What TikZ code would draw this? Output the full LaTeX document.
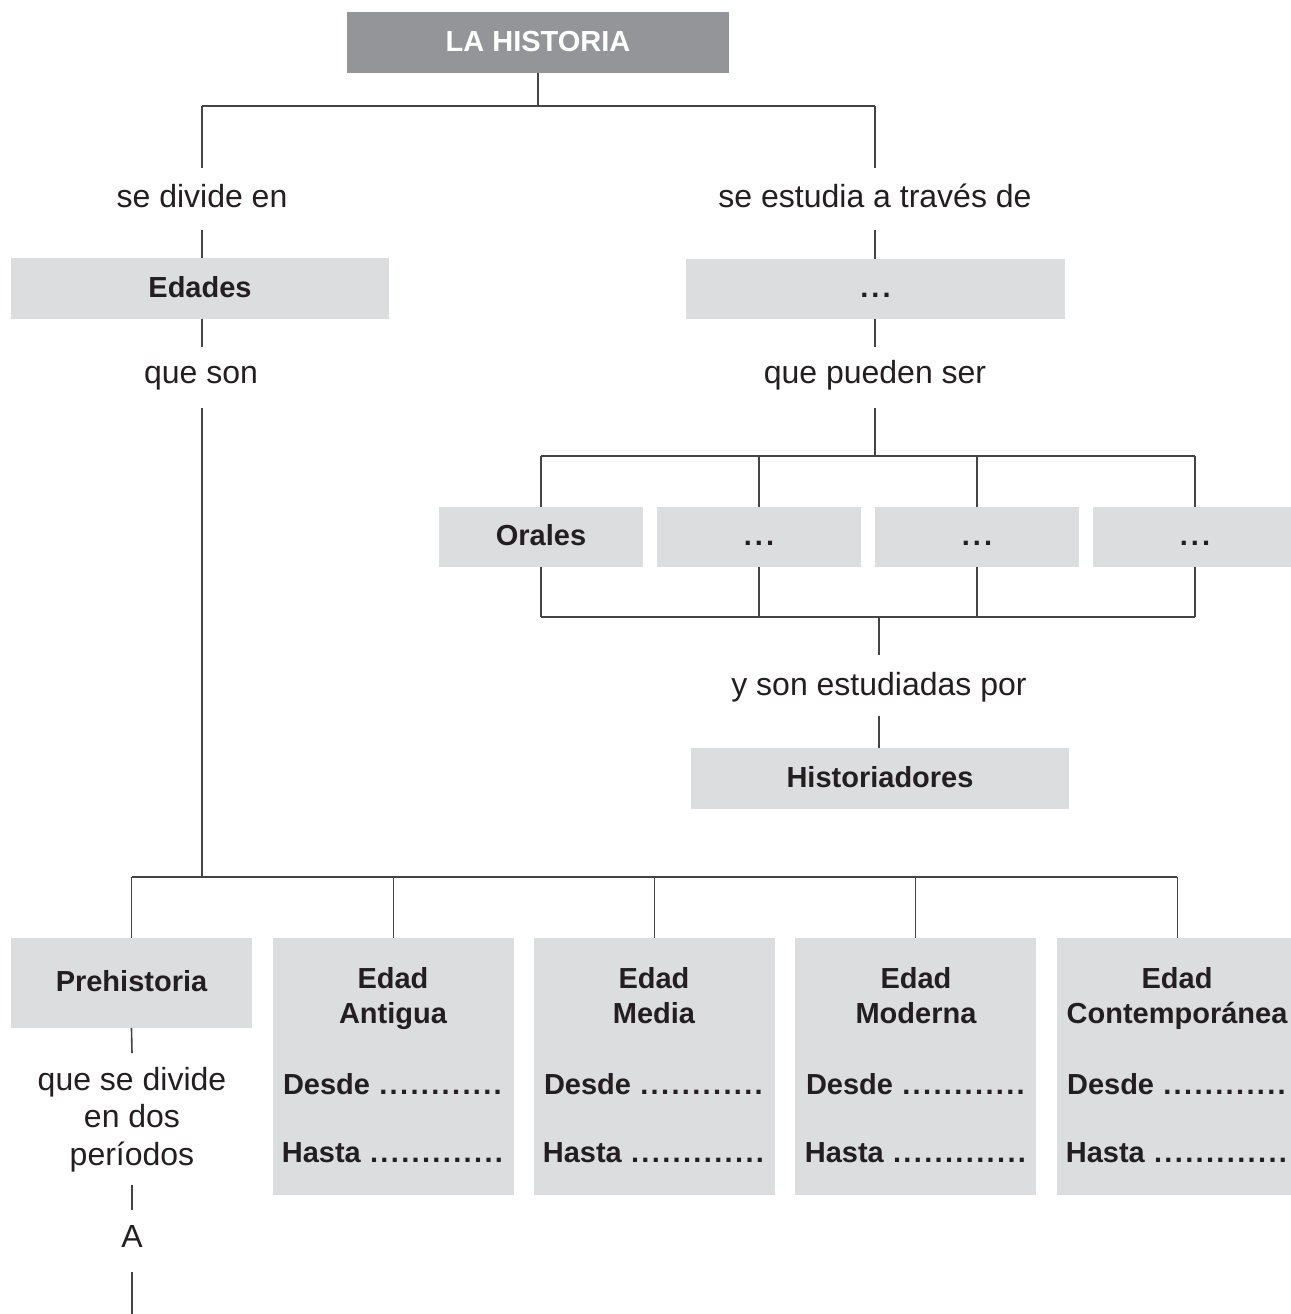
\documentclass[tikz,border=0pt]{standalone}
\usepackage{fontspec}
\setmainfont{Liberation Sans}
\definecolor{txt}{HTML}{231F20}
\definecolor{dark}{HTML}{939598}
\definecolor{light}{HTML}{DCDDDF}
\definecolor{ln}{HTML}{444444}
\newcount\dotcnt
\newcommand{\dotrow}[1]{\dotcnt=0 \loop\hbox to 10.4pt{\hss.\hss}\advance\dotcnt by 1 \ifnum\dotcnt<#1 \repeat}
\newcommand{\tdots}{.\kern3pt.\kern3pt.}
\begin{document}
\begin{tikzpicture}[x=1pt,y=-1pt,
  conn/.style={draw=ln,line width=1.6pt},
  topbox/.style={fill=dark,inner sep=0,text=white,font=\fontsize{29}{34}\selectfont\bfseries,text height=19pt,text depth=0pt},
  gbox/.style={fill=light,inner sep=0,text=txt,font=\fontsize{29}{34}\selectfont\bfseries,text height=17pt,text depth=0pt},
  lbl/.style={inner sep=0,text=txt,font=\fontsize{32}{38}\selectfont,anchor=base},
  blbl/.style={inner sep=0,text=txt,font=\fontsize{29}{36}\selectfont\bfseries,anchor=base}]
\useasboundingbox (0,0) rectangle (1290,1314);
\fill[white] (0,0) rectangle (1290,1314);

% top
\node[topbox,minimum width=382pt,minimum height=61pt] (hist) at (538,42.5) {LA HISTORIA};
\coordinate (j0) at (538,106);
\coordinate (jl) at (202,106);
\coordinate (jr) at (875,106);
\node[lbl] (divide) at (202,207) {se divide en};
\node[lbl] (estudia) at (875,207) {se estudia a través de};
\draw[conn] (hist.south) -- (j0);
\draw[conn] (jl) -- (jr);
\draw[conn] (jl) -- (202,168);
\draw[conn] (jr) -- (875,168);

% Edades branch
\node[gbox,minimum width=378pt,minimum height=61pt] (edades) at (200,288.5) {Edades};
\draw[conn] (202,230) -- (edades.north-|202,0);
\node[lbl] (queson) at (201,383) {que son};
\draw[conn] (edades.south-|202,0) -- (202,347);

% sources branch
\node[gbox,minimum width=379pt,minimum height=60pt] (fuentes) at (875.5,289) {\tdots};
\draw[conn] (875,230) -- (fuentes.north-|875,0);
\node[lbl] (pueden) at (875,383) {que pueden ser};
\draw[conn] (fuentes.south-|875,0) -- (875,347);
\coordinate (k0) at (875,456);
\draw[conn] (875,408) -- (k0);

\node[gbox,minimum width=204pt,minimum height=60pt] (orales) at (541,537) {Orales};
\node[gbox,minimum width=204pt,minimum height=60pt] (f2) at (759,537) {\tdots};
\node[gbox,minimum width=204pt,minimum height=60pt] (f3) at (977,537) {\tdots};
\node[gbox,minimum width=204pt,minimum height=60pt] (f4) at (1195,537) {\tdots};
\draw[conn] (541,456) -- (1195,456);
\foreach \n in {orales,f2,f3,f4}{
  \draw[conn] (\n.north|-k0) -- (\n.north);
  \draw[conn] (\n.south) -- (\n.south|-0,617);
}
\draw[conn] (541,617) -- (1195,617);
\coordinate (k1) at (879,617);
\draw[conn] (k1) -- (879,655);
\node[lbl] (porq) at (879,695) {y son estudiadas por};
\node[gbox,minimum width=378pt,minimum height=61pt] (histor) at (880,778.5) {Historiadores};
\draw[conn] (879,716) -- (histor.north-|879,0);

% ages
\coordinate (m0) at (202,877);
\draw[conn] (202,408) -- (m0);
\draw[conn] (132,877) -- (1177,877);
\node[gbox,minimum width=241pt,minimum height=90pt] (pre) at (131.5,983) {Prehistoria};
\node[gbox,minimum width=241pt,minimum height=257pt] (ant) at (393.5,1066.5) {};
\node[gbox,minimum width=241pt,minimum height=257pt] (med) at (654.5,1066.5) {};
\node[gbox,minimum width=241pt,minimum height=257pt] (mod) at (915.5,1066.5) {};
\node[gbox,minimum width=241pt,minimum height=257pt] (con) at (1177.5,1066.5) {};
\foreach \n in {pre,ant,med,mod,con}{
  \draw[conn] (\n.north|-0,877) -- (\n.north);
}
\foreach \n/\x/\w in {ant/393/Antigua,med/654/Media,mod/916/Moderna,con/1177/Contemporánea}{
  \node[blbl] (\n E) at (\x,988) {Edad};
  \node[blbl] (\n W) at (\x,1023) {\w};
  \node[blbl] (\n D) at (\x,1094) {Desde \dotrow{12}};
  \node[blbl] (\n H) at (\x,1162) {Hasta \dotrow{13}};
}

% prehistoria sub
\draw[conn] (pre.south) -- (132,1053);
\node[lbl] (per1) at (132,1090) {que se divide};
\node[lbl] (per2) at (132,1127) {en dos};
\node[lbl] (per3) at (132,1165) {períodos};
\node[lbl] (A) at (132,1247) {A};
\draw[conn] (132,1185) -- (132,1210);
\draw[conn] (132,1272) -- (132,1314);
\end{tikzpicture}
\end{document}
